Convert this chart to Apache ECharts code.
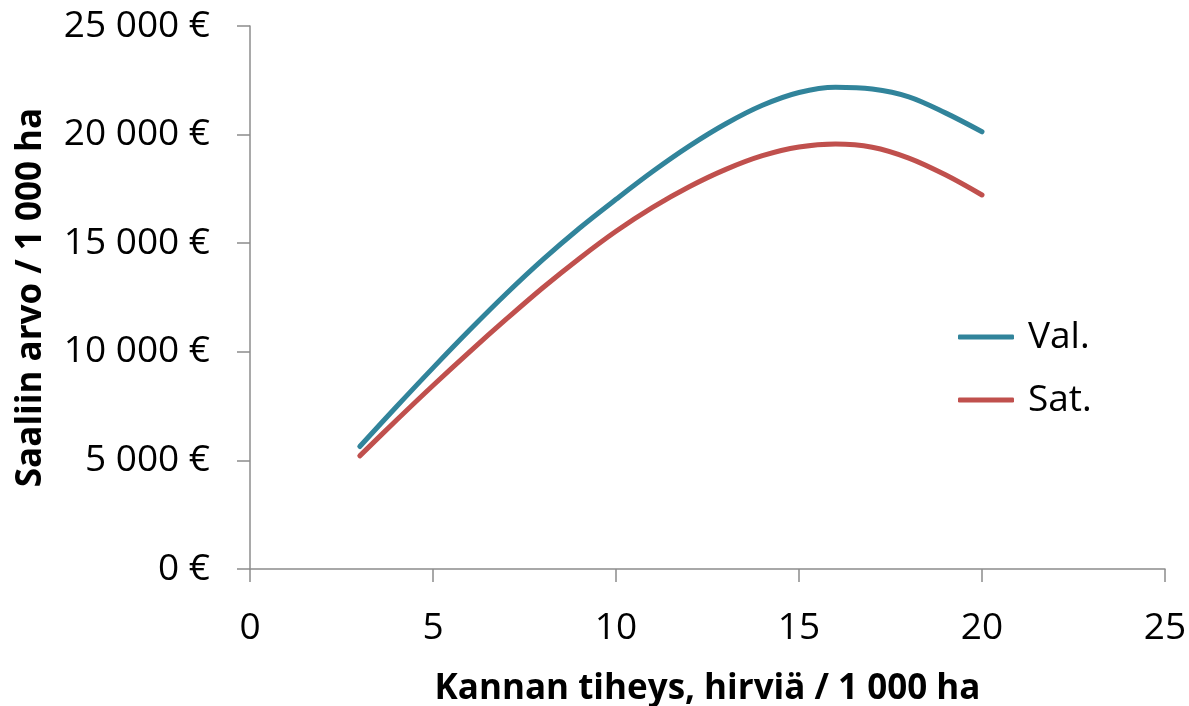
<!DOCTYPE html>
<html>
<head>
<meta charset="utf-8">
<script src="https://cdn.jsdelivr.net/npm/echarts@6/dist/echarts.min.js"></script>
<style>
html,body{margin:0;padding:0;background:#fff;}
#chart{width:1189px;height:706px;}
</style>
</head>
<body>
<div id="chart"></div>
<script>
// Data
var density = [3, 4, 5, 6, 7, 8, 9, 10, 11, 12, 13, 14, 15, 16, 17, 18, 19, 20];
var valValues = [5640, 7470, 9260, 11000, 12670, 14240, 15690, 17020, 18300, 19470, 20500, 21350, 21940, 22180, 22100, 21740, 21000, 20130];
var satValues = [5210, 6850, 8450, 10000, 11500, 12950, 14300, 15550, 16650, 17600, 18400, 19030, 19430, 19570, 19420, 18920, 18150, 17220];
var seriesNames = ['Val.', 'Sat.'];
var xTicks = [0, 5, 10, 15, 20, 25];
var yTicks = [0, 5000, 10000, 15000, 20000, 25000];

function pairs(xs, ys) { return xs.map(function (x, i) { return [x, ys[i]]; }); }
function fmtEuro(v) {
  return String(v).replace(/\B(?=(\d{3})+(?!\d))/g, ' ') + ' €';
}

var FONT = '"Open Sans", "Liberation Sans", sans-serif';
var axisColor = '#8c8c8c';

var chart = echarts.init(document.getElementById('chart'), null, {renderer: 'canvas'});
chart.setOption({
  animation: false,
  backgroundColor: '#ffffff',
  grid: {left: 250, right: 24, top: 26, bottom: 137, containLabel: false, outerBoundsMode: 'none'},
  legend: {
    orient: 'vertical',
    left: 953,
    top: 310,
    itemWidth: 56,
    itemHeight: 5,
    itemGap: 19,
    icon: 'roundRect',
    data: seriesNames,
    textStyle: {fontFamily: FONT, fontSize: 37, color: '#000', padding: [0, 0, 0, 9], lineHeight: 44}
  },
  xAxis: {
    type: 'value',
    min: xTicks[0],
    max: xTicks[xTicks.length - 1],
    interval: 5,
    name: 'Kannan tiheys, hirviä / 1 000 ha',
    nameLocation: 'middle',
    nameGap: 103,
    nameTextStyle: {fontFamily: FONT, fontSize: 35, fontWeight: 'bold', color: '#000'},
    axisLine: {show: true, onZero: false, lineStyle: {color: axisColor, width: 1.5}},
    axisTick: {show: true, length: 13, inside: false, lineStyle: {color: axisColor, width: 1.5}},
    axisLabel: {fontFamily: FONT, fontSize: 37, color: '#000', margin: 41},
    splitLine: {show: false}
  },
  yAxis: {
    type: 'value',
    min: yTicks[0],
    max: yTicks[yTicks.length - 1],
    interval: 5000,
    name: 'Saaliin arvo / 1 000 ha',
    nameLocation: 'middle',
    nameGap: 201,
    nameRotate: 90,
    nameTextStyle: {fontFamily: FONT, fontSize: 35, fontWeight: 'bold', color: '#000'},
    axisLine: {show: true, onZero: false, lineStyle: {color: axisColor, width: 1.5}},
    axisTick: {show: true, length: 13, inside: false, lineStyle: {color: axisColor, width: 1.5}},
    axisLabel: {fontFamily: FONT, fontSize: 37, color: '#000', margin: 40, formatter: fmtEuro},
    splitLine: {show: false}
  },
  series: [
    {
      name: seriesNames[0],
      type: 'line',
      data: pairs(density, valValues),
      smooth: 0.35,
      symbol: 'none',
      color: '#31849B',
      lineStyle: {width: 5, color: '#31849B', cap: 'round'}
    },
    {
      name: seriesNames[1],
      type: 'line',
      data: pairs(density, satValues),
      smooth: 0.35,
      symbol: 'none',
      color: '#C0504D',
      lineStyle: {width: 5, color: '#C0504D', cap: 'round'}
    }
  ]
});
</script>
</body>
</html>
